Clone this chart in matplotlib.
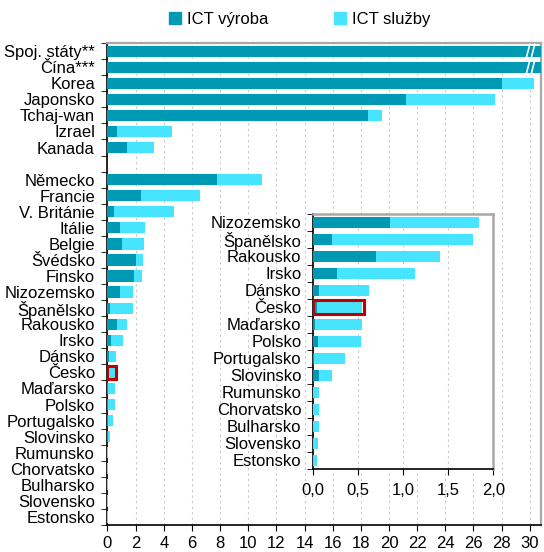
import matplotlib
matplotlib.use("Agg")
import matplotlib.pyplot as plt
from matplotlib.patches import Rectangle
from matplotlib.lines import Line2D
import numpy as np

plt.rcParams['font.family'] = ['Liberation Sans', 'DejaVu Sans']

DARK = '#0099b3'
LIGHT = '#47e4ff'
GRID = '#c8c8c8'
FRAME = '#a8a8a8'

# main chart data (None = empty gap row)
countries = ['Spoj. státy**', 'Čína***', 'Korea', 'Japonsko', 'Tchaj-wan', 'Izrael', 'Kanada',
             None,
             'Německo', 'Francie', 'V. Británie', 'Itálie', 'Belgie', 'Švédsko', 'Finsko',
             'Nizozemsko', 'Španělsko', 'Rakousko', 'Irsko', 'Dánsko', 'Česko', 'Maďarsko',
             'Polsko', 'Portugalsko', 'Slovinsko', 'Rumunsko', 'Chorvatsko', 'Bulharsko',
             'Slovensko', 'Estonsko']
vyroba = [60.0, 90.0, 28.0, 21.2, 18.5, 0.67, 1.4,
          None,
          7.8, 2.4, 0.47, 0.9, 1.04, 2.03, 1.89,
          0.86, 0.21, 0.70, 0.27, 0.074, 0.045, 0.026,
          0.059, 0.018, 0.07, 0.0, 0.0, 0.0,
          0.0, 0.0]
sluzby = [0.0, 0.0, 2.3, 6.3, 1.0, 3.93, 1.9,
          None,
          3.2, 4.2, 4.23, 1.74, 1.56, 0.52, 0.59,
          0.98, 1.57, 0.71, 0.86, 0.546, 0.505, 0.52,
          0.481, 0.342, 0.14, 0.07, 0.066, 0.066,
          0.063, 0.045]

# inset shows the smaller countries
inset_from = countries.index('Nizozemsko')
highlight = 'Česko'

FS = 12

fig = plt.figure(figsize=(5.44, 5.52), dpi=100)
ax = fig.add_axes([0.1976, 0.0489, 0.797, 0.873])

for i, (name, d, s) in enumerate(zip(countries, vyroba, sluzby)):
    if name is None:
        continue
    ax.barh(i, d, height=0.7, color=DARK, zorder=3)
    ax.barh(i, s, left=d, height=0.7, color=LIGHT, zorder=3)
    if name == highlight:
        ax.add_patch(Rectangle((0, i - 0.38), d + s + 0.08, 0.76, fill=False,
                               edgecolor='#c00000', linewidth=2.2, zorder=4))

xmax = 30.8
ax.set_xlim(0, xmax)
ax.set_ylim(len(countries) - 0.5, -0.5)
ax.set_xticks(np.arange(0, 31, 2))
ax.tick_params(axis='x', labelsize=FS, length=4, direction='out', pad=4)
pos = [i for i, n in enumerate(countries) if n is not None]
ax.set_yticks(pos)
ax.set_yticklabels([n for n in countries if n is not None], fontsize=FS)
ax.set_yticks(np.arange(-0.5, len(countries), 1), minor=True)
ax.tick_params(axis='y', which='major', length=0, pad=9)
ax.tick_params(axis='y', which='minor', length=4, direction='out')
ax.xaxis.grid(True, color=GRID, linestyle=(0, (2, 3)), linewidth=0.8, zorder=0)
ax.spines['top'].set_color(FRAME)
ax.spines['right'].set_color(FRAME)
ax.spines['top'].set_linewidth(1.6)
ax.spines['right'].set_linewidth(1.6)
ax.spines['left'].set_linewidth(1.2)
ax.spines['bottom'].set_linewidth(1.2)

# break marks on the two long bars
for i, n in enumerate(countries[:2]):
    for dx in (-0.2, 0.15):
        ax.plot([xmax - 0.85 + dx, xmax - 0.6 + dx], [i + 0.42, i - 0.42],
                color='white', linewidth=1.2, zorder=5, clip_on=False)

# inset
ins = fig.add_axes([0.5748, 0.1504, 0.332, 0.462])
sub_names = countries[inset_from:]
sub_d = vyroba[inset_from:]
sub_s = sluzby[inset_from:]
for i, (name, d, s) in enumerate(zip(sub_names, sub_d, sub_s)):
    ins.barh(i, d, height=0.65, color=DARK, zorder=3)
    ins.barh(i, s, left=d, height=0.65, color=LIGHT, zorder=3)
    if name == highlight:
        ins.add_patch(Rectangle((0, i - 0.41), d + s + 0.02, 0.82, fill=False,
                                edgecolor='#c00000', linewidth=2.2, zorder=4))
ins.set_xlim(0, 2.0)
ins.set_ylim(len(sub_names) - 0.5, -0.5)
ins.set_xticks([0, 0.5, 1.0, 1.5, 2.0])
ins.set_xticklabels(['0,0', '0,5', '1,0', '1,5', '2,0'])
ins.tick_params(axis='x', labelsize=FS, length=4, direction='out', pad=6)
ins.set_yticks(range(len(sub_names)))
ins.set_yticklabels(sub_names, fontsize=FS)
ins.set_yticks(np.arange(-0.5, len(sub_names), 1), minor=True)
ins.tick_params(axis='y', which='major', length=0, pad=8)
ins.tick_params(axis='y', which='minor', length=4, direction='out')
ins.xaxis.grid(True, color=GRID, linestyle=(0, (2, 3)), linewidth=0.8, zorder=0)
ins.spines['top'].set_color(FRAME)
ins.spines['right'].set_color(FRAME)
ins.spines['top'].set_linewidth(1.8)
ins.spines['right'].set_linewidth(1.8)
ins.spines['left'].set_linewidth(1.2)
ins.spines['bottom'].set_linewidth(1.2)

handles = [Line2D([], [], marker='s', linestyle='', color=DARK, markersize=8),
           Line2D([], [], marker='s', linestyle='', color=LIGHT, markersize=8)]
fig.legend(handles, ['ICT výroba', 'ICT služby'], loc='upper center',
           bbox_to_anchor=(0.55, 1.005), ncol=2, frameon=False, fontsize=FS,
           handlelength=0.8, handletextpad=0.3, columnspacing=3.9)

fig.savefig('out.png', dpi=100)
